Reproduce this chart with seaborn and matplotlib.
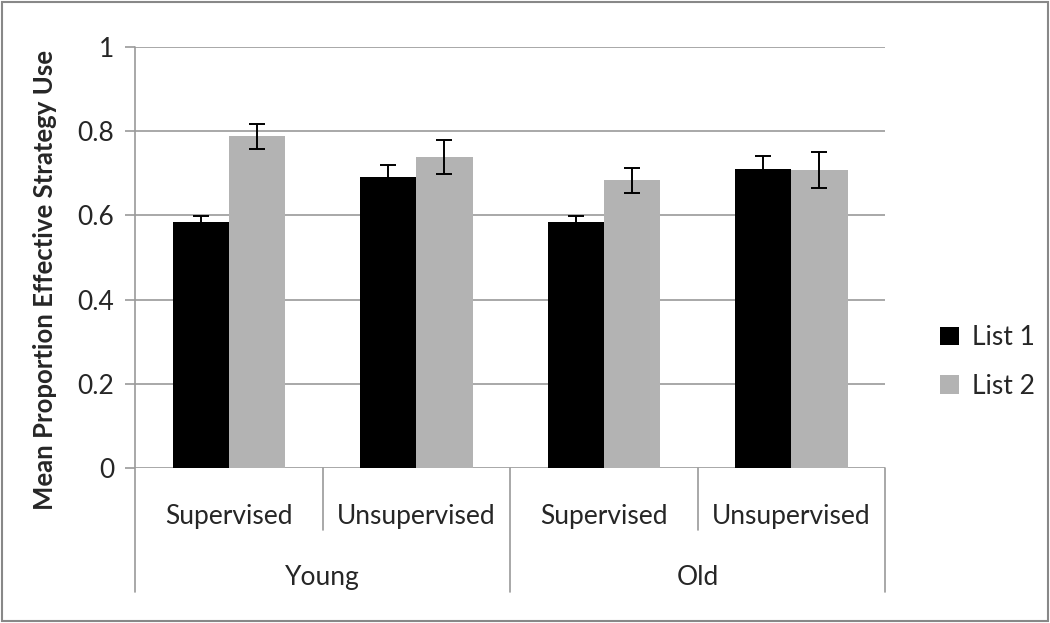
import seaborn as sns
import pandas as pd
import matplotlib.pyplot as plt
from matplotlib.patches import Patch, Rectangle
from matplotlib.lines import Line2D

conditions = ["Supervised", "Unsupervised", "Supervised", "Unsupervised"]
ages = ["Young", "Old"]
lists = ["List 1", "List 2"]
list1_mean = [0.584, 0.690, 0.584, 0.711]
list2_mean = [0.788, 0.738, 0.683, 0.708]
list1_err = [0.014, 0.030, 0.014, 0.030]
list2_err = [0.030, 0.040, 0.030, 0.042]
yticks = [0, 0.2, 0.4, 0.6, 0.8, 1]

cats = ["Young Supervised", "Young Unsupervised", "Old Supervised", "Old Unsupervised"]
df = pd.DataFrame({
    "cat": cats * 2,
    "list": [lists[0]] * 4 + [lists[1]] * 4,
    "value": list1_mean + list2_mean,
})

sns.set_style("white")
plt.rcParams["font.family"] = ["Lato", "DejaVu Sans"]
colors = ["#000000", "#B3B3B3"]
grid_c = "#9A9A9A"
fs = 19

fig = plt.figure(figsize=(10.5, 6.23), dpi=100)
ax = fig.add_axes([0.1286, 0.2488, 0.7143, 0.6758])

sns.barplot(data=df, x="cat", y="value", hue="list", order=cats, hue_order=lists,
            palette=colors, width=0.6, saturation=1, errorbar=None, linewidth=0,
            ax=ax, zorder=3)

errs = [list1_err, list2_err]
for cont, e in zip(ax.containers, errs):
    xs = [b.get_x() + b.get_width() / 2 for b in cont]
    hs = [b.get_height() for b in cont]
    ax.errorbar(xs, hs, yerr=e, fmt="none", ecolor="black", elinewidth=1.4,
                capsize=5.5, capthick=1.4, zorder=4)

ax.set_xlim(-0.5, 3.5)
ax.set_ylim(0, 1)
ax.set_yticks(yticks)
ax.set_yticklabels([f"{t:g}" for t in yticks], fontsize=fs)
ax.yaxis.grid(True, color=grid_c, linewidth=1.2, zorder=0)
ax.set_axisbelow(True)
for s in ["top", "right", "bottom", "left"]:
    ax.spines[s].set_visible(False)
ax.tick_params(axis="y", direction="out", length=7, width=1.2, color=grid_c, pad=8, left=True)
ax.set_xticks([])
ax.set_xlabel("")
ax.set_ylabel("Mean Proportion Effective Strategy Use", fontsize=18.5, fontweight="bold")
ax.yaxis.set_label_coords(-0.104, 0.447)

# multi-level category axis
tr = ax.get_xaxis_transform()
sub_bottom = (468 - 530) / 421
grp_bottom = (468 - 592) / 421
ax.add_line(Line2D([-0.5, -0.5], [1, grp_bottom], transform=tr, color=grid_c, lw=1.2, clip_on=False))
for x in [1.5, 3.5]:
    ax.add_line(Line2D([x, x], [0, grp_bottom], transform=tr, color=grid_c, lw=1.2, clip_on=False))
for x in [0.5, 2.5]:
    ax.add_line(Line2D([x, x], [0, sub_bottom], transform=tr, color=grid_c, lw=1.2, clip_on=False))
for i, c in enumerate(conditions):
    ax.text(i, (468 - 516) / 421, c, transform=tr, ha="center", va="center", fontsize=fs)
for i, a in enumerate(ages):
    ax.text(2 * i + 0.5, (468 - 577) / 421, a, transform=tr, ha="center", va="center", fontsize=fs)

handles = [Patch(facecolor=colors[i], edgecolor="none", label=lists[i]) for i in range(2)]
ax.legend(handles=handles, loc="center left", bbox_to_anchor=(1.042, 0.252), frameon=False,
          fontsize=fs, handlelength=0.7, handleheight=0.7, labelspacing=0.9, handletextpad=0.5)

fig.patches.append(Rectangle((0.002, 0.003), 0.996, 0.994, transform=fig.transFigure,
                             fill=False, edgecolor="#888888", linewidth=1.5))

fig.savefig("out.png", dpi=100)
